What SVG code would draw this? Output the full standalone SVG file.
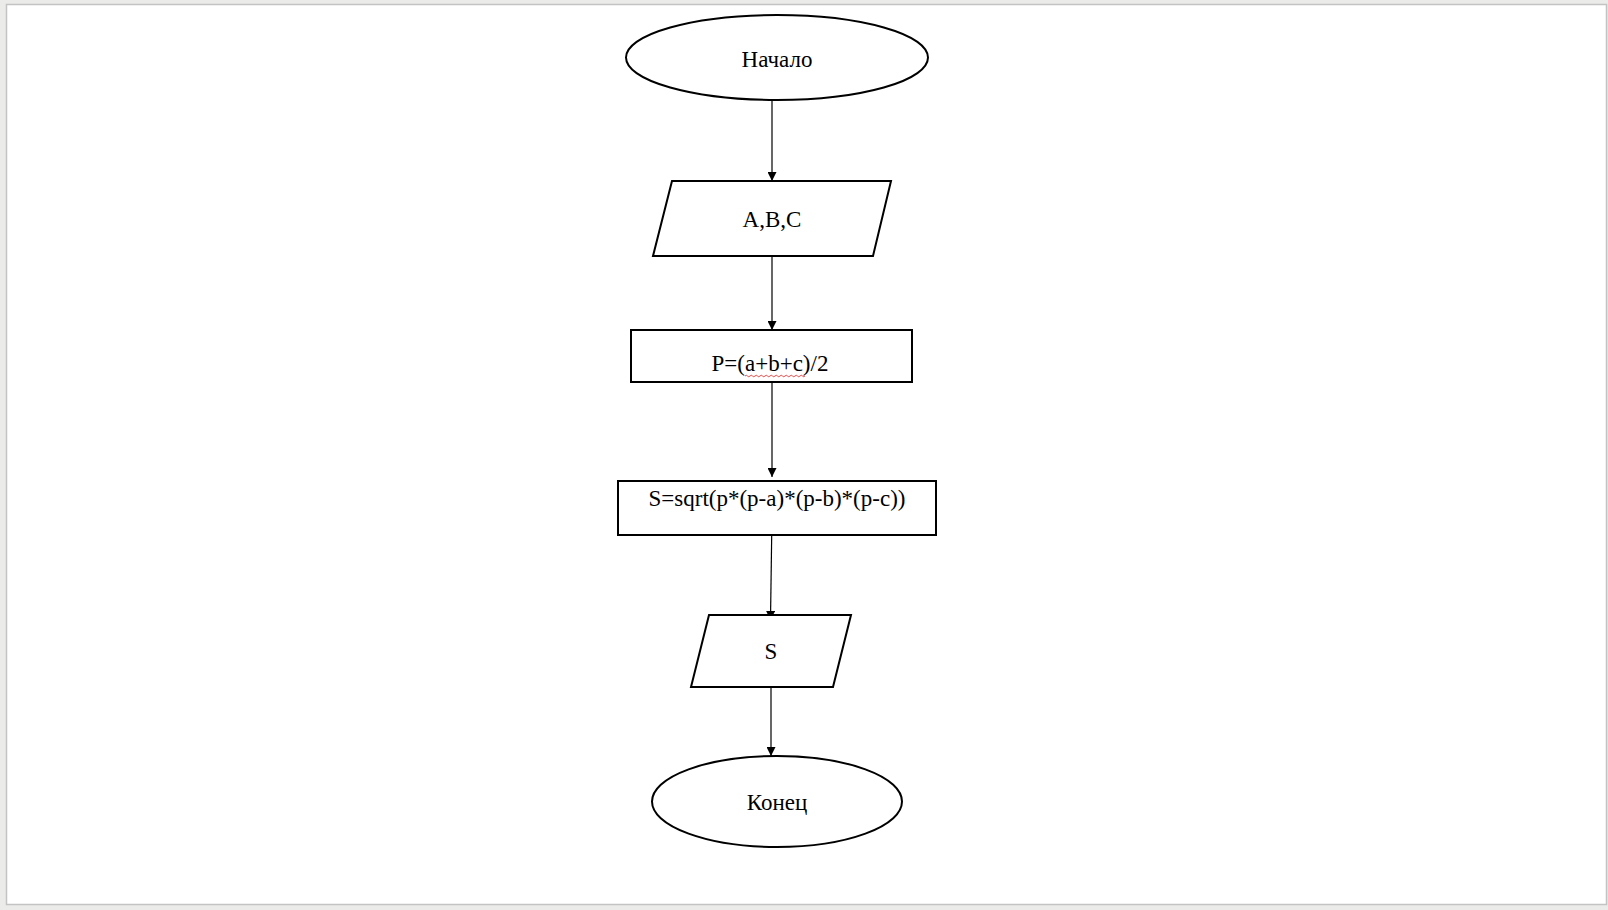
<svg xmlns="http://www.w3.org/2000/svg" width="1608" height="910" viewBox="0 0 1608 910">
<style>
.shape{fill:#fff;stroke:#000;stroke-width:2}
.lbl{font-family:"Liberation Serif","Times New Roman",serif;font-size:23px;fill:#000;text-anchor:middle}
.conn{stroke:#000;stroke-width:1.2;fill:none;marker-end:url(#arr)}
</style>
<defs>
<marker id="arr" viewBox="0 0 10 10" refX="10" refY="5" markerWidth="11" markerHeight="9" markerUnits="userSpaceOnUse" orient="auto">
<path d="M0,0 L10,5 L0,10 z" fill="#000"/>
</marker>
</defs>
<rect x="0" y="0" width="1608" height="910" fill="#ebebea"/>
<rect x="6.5" y="4.5" width="1600" height="900" fill="#fff" stroke="#c3c3c3" stroke-width="1.5"/>
<g id="connectors">
<line class="conn" x1="772" y1="100" x2="772" y2="181"/>
<line class="conn" x1="772" y1="256" x2="772" y2="330"/>
<line class="conn" x1="772" y1="382" x2="772" y2="477"/>
<line class="conn" x1="771.7" y1="535" x2="770.5" y2="620"/>
<line class="conn" x1="771" y1="687" x2="771" y2="756"/>
</g>
<g id="start">
<ellipse class="shape" cx="777" cy="57.5" rx="151" ry="42.5"/>
<text class="lbl" x="777" y="67">Начало</text>
</g>
<g id="input">
<polygon class="shape" points="672,181 891,181 873,256 653,256"/>
<text class="lbl" x="772" y="227">A,B,C</text>
</g>
<g id="calcP">
<rect class="shape" x="631" y="330" width="281" height="52"/>
<text class="lbl" x="770" y="371">P=(a+b+c)/2</text>
<path d="M745,376 q1.25,-1.5 2.5,0 t2.5,0 t2.5,0 t2.5,0 t2.5,0 t2.5,0 t2.5,0 t2.5,0 t2.5,0 t2.5,0 t2.5,0 t2.5,0 t2.5,0 t2.5,0 t2.5,0 t2.5,0 t2.5,0 t2.5,0 t2.5,0 t2.5,0 t2.5,0 t2.5,0 t2.5,0 t2.5,0" fill="none" stroke="#e02020" stroke-width="0.8"/>
</g>
<g id="calcS">
<rect class="shape" x="618" y="481" width="318" height="54"/>
<text class="lbl" x="777" y="506">S=sqrt(p*(p-a)*(p-b)*(p-c))</text>
</g>
<g id="output">
<polygon class="shape" points="709,615 851,615 833,687 691,687"/>
<text class="lbl" x="771" y="659">S</text>
</g>
<g id="end">
<ellipse class="shape" cx="777" cy="801.5" rx="125" ry="45.5"/>
<text class="lbl" x="777" y="810">Конец</text>
</g>
</svg>
